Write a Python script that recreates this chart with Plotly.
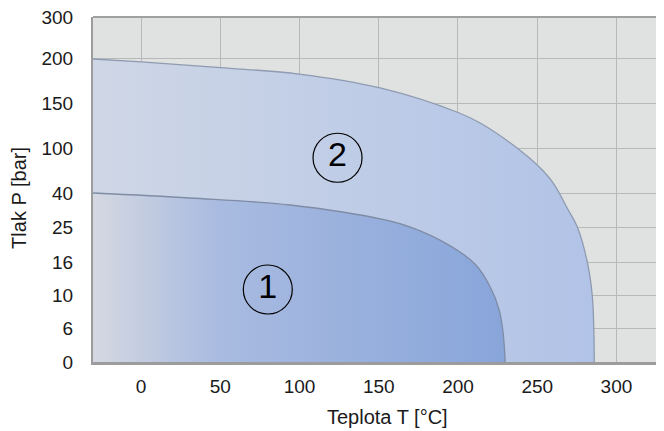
import numpy as np
import plotly.graph_objects as go

# ---- axis tick data ----
p_tick_labels = [0, 6, 10, 16, 25, 40, 100, 150, 200, 300]   # pressure ticks [bar]
t_ticks = [0, 50, 100, 150, 200, 250, 300]                      # temperature ticks [°C]

# ---- region boundaries (temperature °C, pressure bar) ----
t_region2 = [-30.3, 0, 49.9, 99.7, 150.9, 200.8, 214.0, 234.8, 251.3, 260.1, 269.6,
             275.3, 281.6, 284.7, 285.7, 286.0]
p_region2 = [198.9, 195.6, 189.2, 182.2, 166.7, 138.9, 127.8, 103.3, 74.7, 53.3, 32.5,
             25, 16, 10, 6, 0]

t_region1 = [-30.3, 30.9, 94.1, 154.0, 171.7, 193.2, 210.9, 220.3, 226.0, 228.5, 229.8]
p_region1 = [40, 37.8, 34.7, 28.1, 24.7, 20.6, 15.6, 11.5, 8.2, 5.1, 0]

# ---- region labels ----
region_labels = ["1", "2"]
label_t = [80, 124]
label_p = [11, 87]

# ---- scale of the non-linear pressure axis (drawing positions of the ticks) ----
P_SCALE_POS = [0, 34, 67, 100, 135, 169, 214, 259, 304, 344.5]


def p_scale(p):
    return np.interp(p, p_tick_labels, P_SCALE_POS)


FONT = "Liberation Sans, Arial, sans-serif"

fig = go.Figure()

fig.add_trace(go.Scatter(
    x=t_region2, y=p_scale(p_region2), mode="lines",
    line=dict(color="#8e9bb0", width=1.3, shape="spline", smoothing=1),
    fill="tozeroy",
    fillgradient=dict(type="horizontal",
                      colorscale=[[0, "#cfd7e6"], [1, "#b1c3e7"]]),
    hoverinfo="skip", showlegend=False,
))

fig.add_trace(go.Scatter(
    x=t_region1, y=p_scale(p_region1), mode="lines",
    line=dict(color="#7f8ca5", width=1.3, shape="spline", smoothing=1),
    fill="tozeroy",
    fillgradient=dict(type="horizontal",
                      colorscale=[[0, "#d4d8e1"], [0.3, "#a9bbe0"], [1, "#88a5da"]]),
    hoverinfo="skip", showlegend=False,
))

fig.add_trace(go.Scatter(
    x=label_t, y=p_scale(label_p), mode="markers+text",
    text=region_labels, textposition="middle center",
    textfont=dict(family=FONT, size=34, color="#000000"),
    marker=dict(symbol="circle-open", size=49, color="#000000", line=dict(width=1.2)),
    hoverinfo="skip", showlegend=False,
))

fig.update_layout(
    width=656, height=423,
    margin=dict(l=85, r=0, t=9, b=69),
    paper_bgcolor="white",
    plot_bgcolor="#e0e1e1",
    font=dict(family=FONT, size=19, color="#1a1a1a"),
    showlegend=False,
    xaxis=dict(
        range=[-30.3, 330], tickvals=t_ticks, ticktext=[str(v) for v in t_ticks],
        showgrid=True, gridcolor="#b8b8b8", gridwidth=1, zeroline=False,
        showline=True, linecolor="#9c9c9c", linewidth=2.5,
        ticks="", ticklabelstandoff=5,
        tickfont=dict(family=FONT, size=19, color="#1a1a1a"),
    ),
    yaxis=dict(
        range=[0, 345], tickvals=P_SCALE_POS, ticktext=[str(v) for v in p_tick_labels],
        showgrid=True, gridcolor="#b8b8b8", gridwidth=1, zeroline=False,
        showline=True, linecolor="#9c9c9c", linewidth=2,
        ticks="", ticklabelstandoff=14, ticklabeloverflow="allow",
        tickfont=dict(family=FONT, size=19, color="#1a1a1a"),
    ),
    shapes=[dict(type="line", xref="paper", yref="paper", x0=0, x1=1, y0=1, y1=1,
                 line=dict(color="#a0a0a0", width=2))],
    annotations=[
        dict(text="Teplota T [°C]", xref="paper", yref="paper", x=0.515, y=-0.16,
             xanchor="center", yanchor="middle", showarrow=False,
             font=dict(family=FONT, size=20, color="#1a1a1a")),
        dict(text="Tlak P [bar]", xref="paper", yref="paper", x=-0.13, y=0.475,
             xanchor="center", yanchor="middle", textangle=-90, showarrow=False,
             font=dict(family=FONT, size=20, color="#1a1a1a")),
    ],
)

fig.write_html("out.html")
